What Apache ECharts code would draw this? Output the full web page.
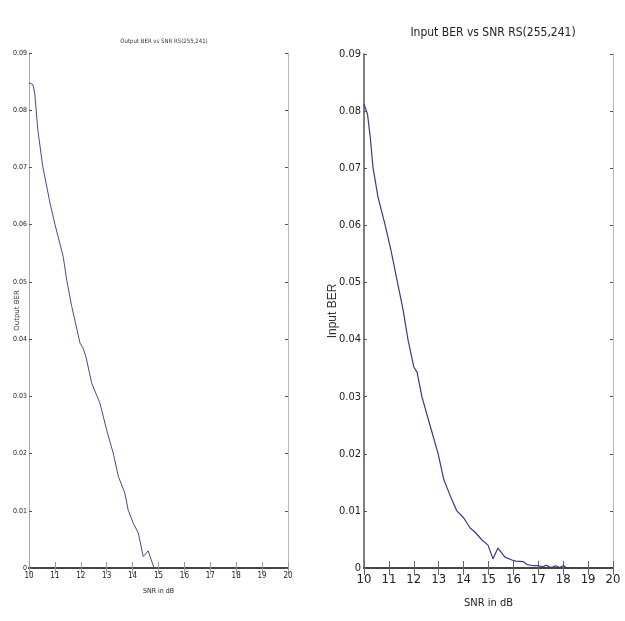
<!DOCTYPE html>
<html>
<head>
<meta charset="utf-8">
<script src="https://cdn.jsdelivr.net/npm/echarts@6/dist/echarts.min.js"></script>
<style>
html,body{margin:0;padding:0;background:#fff;}
#chart{width:625px;height:621px;}
</style>
</head>
<body>
<div id="chart"></div>
<script>
// Output BER vs SNR (left panel)
const outSnr = [10.0, 10.15, 10.22, 10.34, 10.53, 10.81, 11.0, 11.32, 11.46, 11.65, 11.97, 12.08, 12.2, 12.42, 12.74, 13.0, 13.25, 13.45, 13.7, 13.83, 14.03, 14.22, 14.41, 14.6, 14.83];
const outBer = [0.0848, 0.0845, 0.083, 0.0766, 0.0702, 0.0638, 0.0601, 0.0544, 0.0502, 0.0457, 0.0393, 0.0385, 0.0369, 0.0323, 0.0288, 0.0241, 0.0201, 0.016, 0.0131, 0.0101, 0.0078, 0.0061, 0.002, 0.003, 0.0];

// Input BER vs SNR (right panel)
const inSnr = [10.0, 10.06, 10.14, 10.25, 10.36, 10.56, 10.84, 11.08, 11.33, 11.57, 11.77, 12.0, 12.13, 12.33, 12.65, 12.97, 13.21, 13.45, 13.73, 14.0, 14.26, 14.45, 14.74, 14.98, 15.18, 15.38, 15.66, 15.94, 16.1, 16.4, 16.55, 16.8, 17.0, 17.05, 17.2, 17.3, 17.5, 17.6, 17.7, 17.85, 18.0, 18.1];
const inBer = [0.0812, 0.0815, 0.0795, 0.0755, 0.0702, 0.065, 0.0602, 0.0557, 0.0503, 0.0452, 0.0399, 0.0352, 0.0343, 0.0299, 0.025, 0.0201, 0.0154, 0.0128, 0.0100, 0.0088, 0.0070, 0.0063, 0.0049, 0.0040, 0.0016, 0.0035, 0.0019, 0.0014, 0.0012, 0.0011, 0.0006, 0.0004, 0.0004, 0.0007, 0.0002, 0.0005, 0.0001, 0.0002, 0.0004, 0.0001, 0.0004, 0.0002];

const xTicks = [10, 11, 12, 13, 14, 15, 16, 17, 18, 19, 20];
const yTicks = [0, 0.01, 0.02, 0.03, 0.04, 0.05, 0.06, 0.07, 0.08, 0.09];

const titles = ['Output BER vs SNR RS(255,241)', 'Input BER vs SNR RS(255,241)'];
const xNames = ['SNR in dB', 'SNR in dB'];
const yNames = ['Output BER', 'Input BER'];

const FONT = "'DejaVu Sans Condensed', 'Liberation Sans Narrow', sans-serif";
const fmtY = v => v === 0 ? '0' : v.toFixed(2);

function pairs(xs, ys) { return xs.map((x, i) => [x, ys[i]]); }

const panels = [
  {grid: {left: 29, right: 337, top: 53, bottom: 53}, fs: 7, xfs: 8, tick: 6, lm: 4, ym: 2, nameFs: 7, xGap: 20, yGap: 8, tickCol: '#999',
   leftCol: '#aaa', leftW: 1, yNameFont: "'DejaVu Sans', sans-serif", yNameFs: 7},
  {grid: {left: 364, right: 12, top: 54, bottom: 53}, fs: 11, xfs: 13, tick: 7, lm: 5, ym: 3, nameFs: 11, xGap: 30, yGap: 25, tickCol: '#666',
   leftCol: '#555', leftW: 1.5, yNameFont: "'Liberation Sans', Arial, sans-serif", yNameFs: 12}
];

const xAxis = [], yAxis = [], series = [];
panels.forEach((p, i) => {
  const base = {type: 'value', min: xTicks[0], max: xTicks[xTicks.length - 1], interval: 1, gridIndex: i, splitLine: {show: false}};
  xAxis.push(Object.assign({}, base, {
    position: 'bottom',
    axisLine: {lineStyle: {color: '#444', width: 2}},
    axisTick: {inside: true, length: p.tick, lineStyle: {color: p.tickCol}},
    axisLabel: {fontFamily: FONT, fontSize: p.xfs, color: '#222', margin: p.lm},
    name: xNames[i], nameLocation: 'middle', nameGap: p.xGap, nameMoveOverlap: false,
    nameTextStyle: {fontFamily: FONT, fontSize: p.nameFs, color: '#222'}
  }));
  xAxis.push(Object.assign({}, base, {
    position: 'top',
    axisLine: {lineStyle: {color: '#444', width: 2}},
    axisTick: {inside: true, length: p.tick, lineStyle: {color: p.tickCol}},
    axisLabel: {show: false}
  }));
  const ybase = {type: 'value', min: yTicks[0], max: yTicks[yTicks.length - 1], interval: 0.01, gridIndex: i, splitLine: {show: false}};
  yAxis.push(Object.assign({}, ybase, {
    position: 'left',
    axisLine: {lineStyle: {color: p.leftCol, width: p.leftW}},
    axisTick: {inside: true, length: 3, lineStyle: {color: '#555'}},
    axisLabel: {fontFamily: FONT, fontSize: p.fs, color: '#222', margin: p.ym, formatter: fmtY},
    name: yNames[i], nameLocation: 'middle', nameGap: p.yGap, nameRotate: 90, nameMoveOverlap: false,
    nameTextStyle: {fontFamily: p.yNameFont, fontSize: p.yNameFs, color: '#333'}
  }));
  yAxis.push(Object.assign({}, ybase, {
    position: 'right',
    axisLine: {lineStyle: {color: '#bbb', width: 1}},
    axisTick: {inside: true, length: 3, lineStyle: {color: '#555'}},
    axisLabel: {show: false}
  }));
});

series.push({type: 'line', xAxisIndex: 0, yAxisIndex: 0, data: pairs(outSnr, outBer), showSymbol: false, symbol: 'none',
  lineStyle: {color: '#4a4a8c', width: 1}, animation: false});
series.push({type: 'line', xAxisIndex: 2, yAxisIndex: 2, data: pairs(inSnr, inBer), showSymbol: false, symbol: 'none',
  lineStyle: {color: '#3a3a85', width: 1.2}, animation: false});

const chart = echarts.init(document.getElementById('chart'), null, {renderer: 'canvas'});
chart.setOption({
  backgroundColor: '#fff',
  animation: false,
  title: [
    {text: titles[0], left: 159, top: 33, textAlign: 'center', textStyle: {fontFamily: FONT, fontSize: 6, fontWeight: 'normal', color: '#333'}},
    {text: titles[1], left: 488, top: 22, textAlign: 'center', textStyle: {fontFamily: FONT, fontSize: 12, fontWeight: 'normal', color: '#222'}}
  ],
  grid: panels.map(p => p.grid),
  xAxis: xAxis,
  yAxis: yAxis,
  series: series
});
</script>
</body>
</html>
